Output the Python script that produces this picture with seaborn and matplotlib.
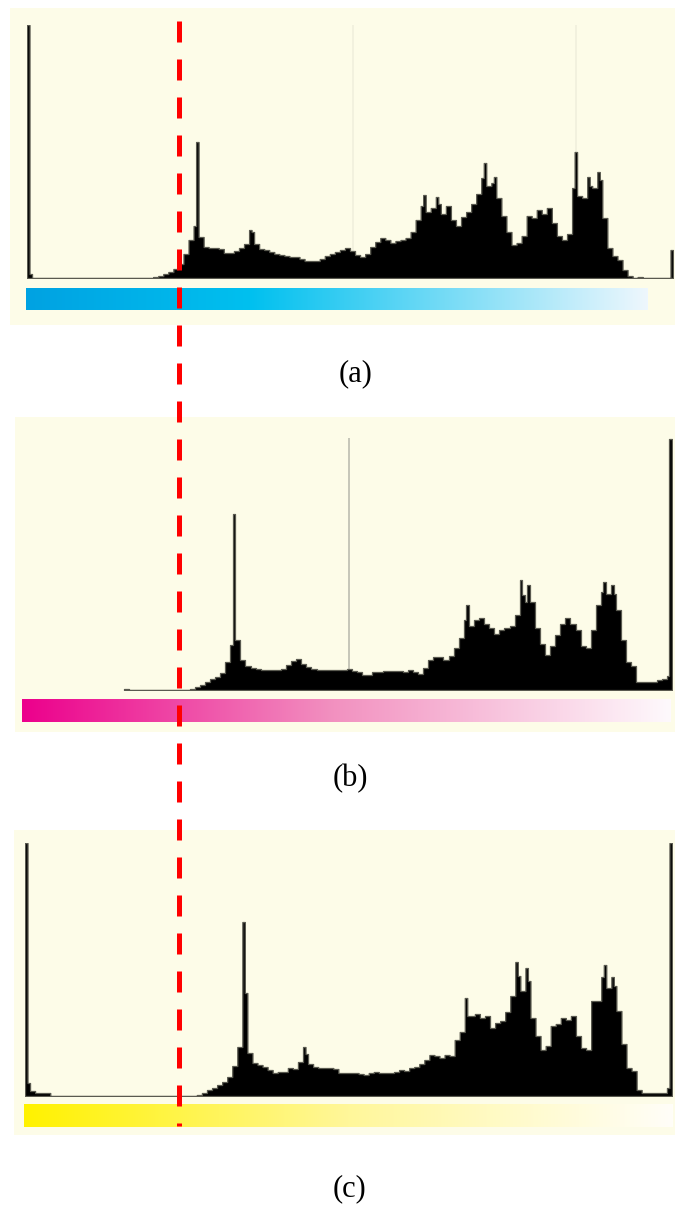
import numpy as np
import pandas as pd
import matplotlib
matplotlib.use("Agg")
import matplotlib.pyplot as plt
from matplotlib.colors import LinearSegmentedColormap
from matplotlib.lines import Line2D
from matplotlib.transforms import blended_transform_factory
import seaborn as sns

# tamanho da figura em pixels
W, H = 675, 1205

# (a) canal ciano: altura de cada par de níveis (128 valores, nível 0..255)
corpo_a = [4, 0, 0, 0, 0, 0, 0, 0, 0, 0, 0, 0, 0, 0, 0, 0, 0, 0, 0, 0, 0, 0, 0, 0, 0,
           1, 2, 4, 6, 9, 14, 24, 38, 52, 41,
           31, 30, 30, 29, 25, 25, 27, 30, 34, 46,
           34, 29, 28, 26, 24, 23, 22, 21, 21, 19,
           17, 17, 17, 19, 22, 24, 26, 28, 30, 27,
           23, 21, 24, 31, 36, 40, 38, 35, 37, 38,
           40, 46, 58, 72, 66, 70, 74, 64, 72, 58,
           52, 61, 66, 74, 84, 100, 92, 95, 80, 62,
           46, 33, 35, 42, 62, 60, 68, 64, 70, 55,
           42, 38, 44, 90, 82, 80, 92, 90, 98, 60,
           30, 22, 18, 8, 2, 0, 1, 0, 0, 0,
           0, 0, 0]
picos_niv_a = [0, 67, 88, 157, 162, 181, 185, 217, 222, 226, 255]
picos_alt_a = [253, 136, 48, 83, 81, 115, 101, 126, 101, 106, 28]
linhas_claras_a = [129, 217.5]

# (b) canal magenta: começa no nível 40
primeiro_nivel_b = 40
corpo_b = [1, 0, 0, 0, 0, 0, 0, 0, 0, 0, 0, 0, 0,
           1, 3, 5, 8, 11, 13, 17, 28, 45, 50,
           30, 24, 22, 21, 20, 20, 20, 20, 21, 25,
           29, 31, 26, 23, 21, 20, 20, 20, 20, 20,
           20, 21, 19, 18, 15, 15, 18, 18, 19, 19,
           19, 19, 18, 20, 18, 16, 22, 30, 33, 33,
           30, 34, 42, 52, 70, 64, 70, 72, 66, 62,
           56, 60, 62, 64, 75, 95, 88, 88, 62, 46,
           35, 44, 55, 66, 72, 66, 60, 44, 42, 60,
           85, 98, 96, 96, 80, 50, 28, 24, 8, 8,
           8, 8, 10, 11, 14]
picos_niv_b = [83, 175, 196, 199, 229, 232, 255]
picos_alt_b = [177, 85, 110, 105, 108, 105, 252]
linhas_claras_b = [128.8]

# (c) canal amarelo
corpo_c = [13, 5, 3, 3, 3,
           0, 0, 0, 0, 0, 0, 0, 0, 0, 0, 0, 0, 0, 0, 0, 0, 0, 0, 0, 0, 0, 0, 0, 0, 0,
           0, 0, 0, 0, 1,
           3, 6, 8, 11, 14, 19, 30, 49, 60, 43,
           33, 31, 29, 26, 23, 24, 24, 28, 27, 34,
           42, 32, 29, 28, 28, 28, 27, 23, 23, 23,
           23, 22, 21, 23, 24, 23, 23, 23, 24, 26,
           25, 28, 29, 32, 36, 41, 40, 38, 41, 40,
           56, 64, 80, 80, 82, 78, 80, 68, 73, 75,
           84, 100, 120, 105, 115, 78, 60, 46, 50, 70,
           72, 78, 76, 80, 60, 48, 46, 95, 95, 118,
           108, 110, 85, 52, 28, 25, 6, 3, 3, 3,
           3, 3, 8]
picos_niv_c = [0, 86, 87, 110, 174, 194, 198, 228, 229, 232, 255]
picos_alt_c = [253, 174, 103, 49, 98, 134, 128, 119, 131, 119, 253]

rotulos = ["(a)", "(b)", "(c)"]
limiar = 60.2

cor_fundo = "#fdfce8"
cores_a = ["#00a2e2", "#00c0ef", "#eef7fd"]
cores_b = ["#ec008c", "#f291c0", "#fef9fc"]
cores_c = ["#fff200", "#fff79a", "#fffef8"]


def caixa(x0, y0, x1, y1):
    return [x0 / W, 1 - y1 / H, (x1 - x0) / W, (y1 - y0) / H]


def desenhar_histograma(fig, pos, corpo, primeiro, picos_niv, picos_alt, linhas=(), cor_linha="#f0efdc"):
    ax = fig.add_axes(caixa(*pos))
    ax.patch.set_alpha(0)
    contagens = np.repeat(np.array(corpo, dtype=float), 2)
    for n, h in zip(picos_niv, picos_alt):
        contagens[n - primeiro] = max(contagens[n - primeiro], h)
    df = pd.DataFrame({"nivel": np.arange(primeiro, 256), "contagem": contagens})
    for x in linhas:
        ax.axvline(x, color=cor_linha, lw=1.2, zorder=0.5)
    sns.histplot(data=df, x="nivel", weights="contagem", binwidth=1, binrange=(primeiro, 256),
                 element="step", fill=True, color="black", alpha=1,
                 edgecolor="#5a5a50", linewidth=0.9, ax=ax)
    ax.set_xlim(0, 256)
    ax.set_ylim(0, 253)
    ax.set_axis_off()
    return ax


def desenhar_fundo(fig, pos):
    ax = fig.add_axes(caixa(*pos))
    ax.set_facecolor(cor_fundo)
    ax.set_xticks([])
    ax.set_yticks([])
    for s in ax.spines.values():
        s.set_visible(False)
    return ax


def desenhar_gradiente(fig, pos, cores, paradas):
    ax = fig.add_axes(caixa(*pos))
    cmap = LinearSegmentedColormap.from_list("g", list(zip(paradas, cores)))
    ax.imshow(np.linspace(0, 1, 256)[None, :], aspect="auto", cmap=cmap)
    ax.set_axis_off()
    return ax


sns.set_theme(style="white")
plt.rcParams["font.family"] = ["Liberation Serif", "DejaVu Serif"]

fig = plt.figure(figsize=(W / 100, H / 100), dpi=100)
fig.patch.set_facecolor("white")

# painel (a)
desenhar_fundo(fig, (10, 8, 675, 325))
ax_a = desenhar_histograma(fig, (27, 25, 673, 278), corpo_a, 0, picos_niv_a, picos_alt_a, linhas_claras_a)
desenhar_gradiente(fig, (26, 288, 648, 310), cores_a, [0, 0.36, 1])

# painel (b)
desenhar_fundo(fig, (15, 417, 675, 732))
desenhar_histograma(fig, (22, 438, 672, 690), corpo_b, primeiro_nivel_b, picos_niv_b, picos_alt_b,
                    linhas_claras_b, cor_linha="#bdbdb0")
desenhar_gradiente(fig, (22, 699, 671, 722), cores_b, [0, 0.48, 1])

# painel (c)
desenhar_fundo(fig, (14, 830, 675, 1135))
desenhar_histograma(fig, (25, 843, 672, 1096), corpo_c, 0, picos_niv_c, picos_alt_c)
desenhar_gradiente(fig, (24, 1104, 673, 1127), cores_c, [0, 0.5, 1])

# rótulos
for rot, (cx, cy) in zip(rotulos, [(356, 374), (350, 779), (350, 1189)]):
    fig.text(cx / W, 1 - cy / H, rot, ha="center", va="center", fontsize=22, color="black")

# linha vermelha tracejada no limiar
trans = blended_transform_factory(ax_a.transData, fig.transFigure)
fig.add_artist(Line2D([limiar, limiar], [1 - 21 / H, 1 - 1126 / H], transform=trans,
                      color="#ff0000", lw=3.6, dashes=(4.2, 3.4), zorder=10))

fig.savefig("out.png", dpi=100)
